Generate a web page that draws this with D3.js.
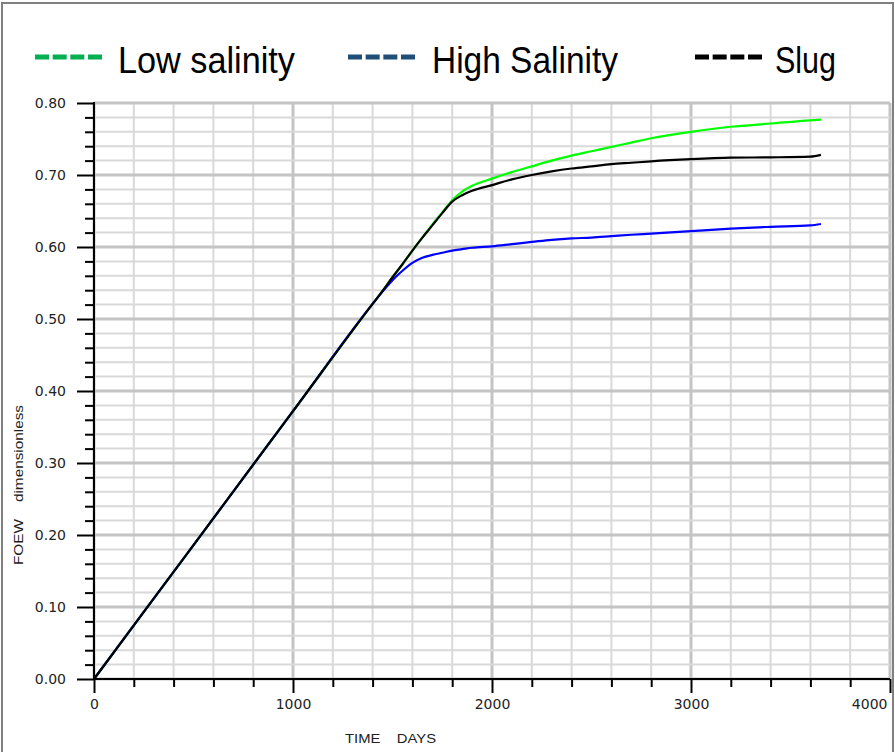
<!DOCTYPE html>
<html>
<head>
<meta charset="utf-8">
<script src="https://cdn.jsdelivr.net/npm/d3@7"></script>
<style>
  body { margin: 0; background: #fff; }
  svg { display: block; }
</style>
</head>
<body>
<svg id="chart" width="895" height="752"></svg>
<script>
// Recovery factor (FOEW) versus time for three injection cases
const days = [0, 500, 1000, 1400, 1450, 1500, 1550, 1600, 1650, 1700, 1750, 1800, 1850, 1900,
              2000, 2100, 2200, 2300, 2400, 2500, 2600, 2700, 2800, 3000, 3200, 3400, 3600, 3653];
const lowSalinity = [0, 0.186, 0.372, 0.521, 0.539, 0.558, 0.576, 0.595, 0.613, 0.631, 0.648, 0.665,
                     0.677, 0.685, 0.695, 0.704, 0.712, 0.720, 0.727, 0.733, 0.739, 0.745, 0.751,
                     0.760, 0.767, 0.7715, 0.776, 0.777];
const highSalinity = [0, 0.186, 0.372, 0.521, 0.538, 0.554, 0.567, 0.578, 0.585, 0.589, 0.592, 0.595,
                      0.597, 0.599, 0.601, 0.604, 0.607, 0.610, 0.612, 0.613, 0.615, 0.617, 0.6185,
                      0.622, 0.6255, 0.628, 0.630, 0.632];
const slug = [0, 0.186, 0.372, 0.521, 0.539, 0.558, 0.576, 0.595, 0.613, 0.630, 0.647, 0.663,
              0.672, 0.678, 0.686, 0.694, 0.700, 0.705, 0.709, 0.712, 0.715, 0.717, 0.719,
              0.722, 0.724, 0.7245, 0.7255, 0.728];

const seriesNames = ["Low salinity", "High Salinity", "Slug"];
const lineColors = ["#00ff00", "#0000ff", "#000000"];
const legendColors = ["#00b050", "#1f4e79", "#000000"];

const xMajorTicks = [0, 1000, 2000, 3000, 4000];
const yMajorTicks = [0, 0.1, 0.2, 0.3, 0.4, 0.5, 0.6, 0.7, 0.8];
const xTitle = "TIME    DAYS";
const yTitle = "FOEW    dimensionless";

const svg = d3.select("#chart");

const x = d3.scaleLinear().domain([0, 4000]).range([94, 890]);
const y = d3.scaleLinear().domain([0, 0.8]).range([679, 103]);

const xMinor = d3.range(0, 4001, 200);
const yMinor = d3.range(0, 41).map(i => i * 0.02);
const isMajorX = v => Math.abs(v % 1000) < 1e-6;
const isMajorY = v => Math.abs(Math.round(v * 10) - v * 10) < 1e-6;

// outer frame
svg.append("rect")
  .attr("x", 2).attr("y", 3).attr("width", 891).attr("height", 760)
  .attr("fill", "none").attr("stroke", "#808080").attr("stroke-width", 2);

// grid
const grid = svg.append("g");
grid.selectAll("line.vx").data(xMinor).join("line")
  .attr("x1", d => x(d)).attr("x2", d => x(d))
  .attr("y1", y(0.8)).attr("y2", y(0))
  .attr("stroke", d => isMajorX(d) ? "#c4c4c4" : "#d9d9d9")
  .attr("stroke-width", d => isMajorX(d) ? 3 : 2);
grid.selectAll("line.hy").data(yMinor).join("line")
  .attr("x1", x(0)).attr("x2", x(4000))
  .attr("y1", d => y(d)).attr("y2", d => y(d))
  .attr("stroke", d => isMajorY(d) ? "#c4c4c4" : "#d9d9d9")
  .attr("stroke-width", d => isMajorY(d) ? 3 : 2);

// series
const series = [lowSalinity, highSalinity, slug];
const line = d3.line().x(d => x(d[0])).y(d => y(d[1])).curve(d3.curveMonotoneX);
series.forEach((vals, i) => {
  svg.append("path")
    .datum(days.map((d, j) => [d, vals[j]]))
    .attr("d", line)
    .attr("fill", "none")
    .attr("stroke", lineColors[i])
    .attr("stroke-width", 2.2);
});

// axes
const tickFont = "DejaVu Sans, sans-serif";
function styleAxis(g) {
  g.select(".domain").remove();
  g.selectAll(".tick line").attr("stroke", "#000").attr("stroke-width", 2);
  g.selectAll(".tick text").attr("font-family", tickFont).attr("font-size", 14).attr("fill", "#222");
}

svg.append("g").attr("transform", `translate(${x(0)},0)`)
  .call(d3.axisLeft(y).tickValues(yMinor.filter(v => !isMajorY(v))).tickSize(9).tickFormat(""))
  .call(styleAxis);
svg.append("g").attr("transform", `translate(${x(0)},0)`)
  .call(d3.axisLeft(y).tickValues(yMajorTicks).tickSize(17).tickPadding(11).tickFormat(d3.format(".2f")))
  .call(styleAxis);

svg.append("g").attr("transform", `translate(0,${y(0)})`)
  .call(d3.axisBottom(x).tickValues(xMinor.filter(v => !isMajorX(v))).tickSize(8).tickFormat(""))
  .call(styleAxis);
const xAxisMajor = svg.append("g").attr("transform", `translate(0,${y(0)})`)
  .call(d3.axisBottom(x).tickValues(xMajorTicks).tickSize(14).tickPadding(6).tickFormat(d3.format("d")))
  .call(styleAxis);
xAxisMajor.selectAll(".tick text").filter(d => d === 4000)
  .attr("text-anchor", "end").attr("x", -3);

// axis lines
svg.append("line").attr("x1", x(0)).attr("x2", x(0)).attr("y1", y(0.8) - 1).attr("y2", y(0))
  .attr("stroke", "#000").attr("stroke-width", 2);
svg.append("line").attr("x1", x(0)).attr("x2", x(4000)).attr("y1", y(0)).attr("y2", y(0))
  .attr("stroke", "#000").attr("stroke-width", 2);

// axis titles
svg.append("text")
  .attr("x", 345).attr("y", 743)
  .attr("font-family", "Liberation Sans, Arial, sans-serif").attr("font-size", 13)
  .attr("fill", "#222")
  .attr("textLength", 91).attr("lengthAdjust", "spacingAndGlyphs")
  .style("white-space", "pre")
  .text(xTitle);
svg.append("text")
  .attr("transform", "translate(23,565) rotate(-90)")
  .attr("font-family", "Liberation Sans, Arial, sans-serif").attr("font-size", 13)
  .attr("fill", "#222")
  .attr("textLength", 160).attr("lengthAdjust", "spacingAndGlyphs")
  .style("white-space", "pre")
  .text(yTitle);

// legend
const legendX = [35, 348, 695];
const legendTextX = [118, 432, 775];
const legendTextW = [177, 186, 61];
const legend = svg.append("g");
seriesNames.forEach((name, i) => {
  legend.append("line")
    .attr("x1", legendX[i]).attr("x2", legendX[i] + 67)
    .attr("y1", 57).attr("y2", 57)
    .attr("stroke", legendColors[i]).attr("stroke-width", 5)
    .attr("stroke-dasharray", "14 3.67");
  legend.append("text")
    .attr("x", legendTextX[i]).attr("y", 73)
    .attr("font-family", "Liberation Sans Narrow, Liberation Sans, Arial, sans-serif")
    .attr("font-size", 36).attr("fill", "#000")
    .attr("textLength", legendTextW[i]).attr("lengthAdjust", "spacingAndGlyphs")
    .text(name);
});
</script>
</body>
</html>
